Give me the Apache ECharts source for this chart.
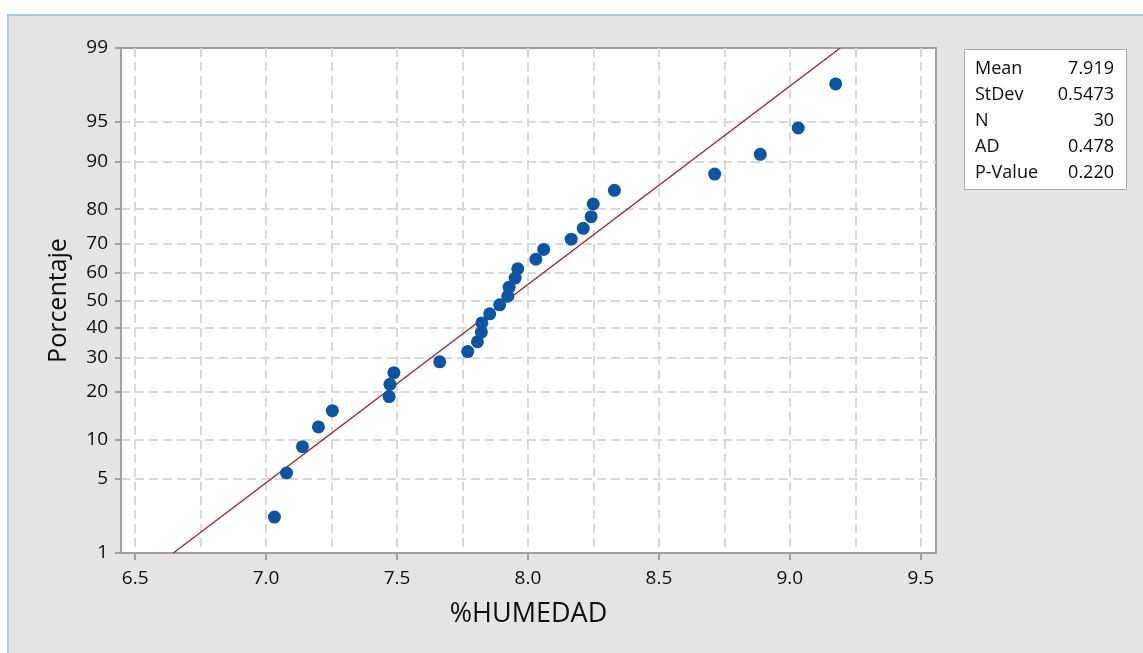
<!DOCTYPE html>
<html>
<head>
<meta charset="utf-8">
<script src="https://cdn.jsdelivr.net/npm/echarts@6/dist/echarts.min.js"></script>
<style>
html,body{margin:0;padding:0;background:#fff;}
#chart{width:1143px;height:653px;}
</style>
</head>
<body>
<div id="chart"></div>
<script>
// ---- data ----
const humedad = [7.032,7.078,7.139,7.200,7.253,7.470,7.473,7.488,7.663,7.770,7.807,7.822,7.824,7.854,7.892,7.923,7.928,7.951,7.961,8.030,8.060,8.165,8.211,8.241,8.249,8.330,8.713,8.887,9.032,9.175];
const percentaje = [2.3,5.6,8.9,12.2,15.5,18.8,22.0,25.3,28.6,31.9,35.2,38.5,41.8,45.1,48.4,51.6,54.9,58.2,61.5,64.8,68.1,71.4,74.7,78.0,81.3,84.5,87.8,91.1,94.4,97.7];
const yTickPercents = [1,5,10,20,30,40,50,60,70,80,90,95,99];
const xTickLabels = [6.5,7.0,7.5,8.0,8.5,9.0,9.5];
const xGridValues = [6.5,6.75,7.0,7.25,7.5,7.75,8.0,8.25,8.5,8.75,9.0,9.25,9.5];
const statNames = ['Mean','StDev','N','AD','P-Value'];
const statValues = ['7.919','0.5473','30','0.478','0.220'];
const fitMean = 7.919;
const fitStDev = 0.5473;
const fitRange = [1, 99];

// normal quantile (Acklam)
function probit(p){
  const a=[-3.969683028665376e+01,2.209460984245205e+02,-2.759285104469687e+02,1.383577518672690e+02,-3.066479806614716e+01,2.506628277459239e+00];
  const b=[-5.447609879822406e+01,1.615858368580409e+02,-1.556989798598866e+02,6.680131188771972e+01,-1.328068155288572e+01];
  const c=[-7.784894002430293e-03,-3.223964580411365e-01,-2.400758277161838e+00,-2.549732539343734e+00,4.374664141464968e+00,2.938163982698783e+00];
  const d=[7.784695709041462e-03,3.224671290700398e-01,2.445134137142996e+00,3.754408661907416e+00];
  const pl=0.02425, ph=1-pl;
  let q,r;
  if(p<pl){q=Math.sqrt(-2*Math.log(p));return (((((c[0]*q+c[1])*q+c[2])*q+c[3])*q+c[4])*q+c[5])/((((d[0]*q+d[1])*q+d[2])*q+d[3])*q+1);}
  if(p<=ph){q=p-0.5;r=q*q;return (((((a[0]*r+a[1])*r+a[2])*r+a[3])*r+a[4])*r+a[5])*q/(((((b[0]*r+b[1])*r+b[2])*r+b[3])*r+b[4])*r+1);}
  q=Math.sqrt(-2*Math.log(1-p));return -(((((c[0]*q+c[1])*q+c[2])*q+c[3])*q+c[4])*q+c[5])/((((d[0]*q+d[1])*q+d[2])*q+d[3])*q+1);
}
const z = pct => probit(pct/100);
const yTickZ = yTickPercents.map(z);
const yGridZ = yTickZ.slice(1, -1);
function labelForZ(v){
  let best=0, bd=Infinity;
  yTickZ.forEach((t,i)=>{const dd=Math.abs(t-v); if(dd<bd){bd=dd;best=i;}});
  return String(yTickPercents[best]);
}

const points = humedad.map((x,i)=>[x, z(percentaje[i])]);
const fitLine = fitRange.map(p => [fitMean + z(p)*fitStDev, z(p)]);

const FONT = '"Open Sans", "Noto Sans", sans-serif';
const TXT = '#0d0d0d';
const chart = echarts.init(document.getElementById('chart'), null, {renderer:'canvas'});

const statGraphics = [];
statGraphics.push({type:'rect', shape:{x:964.5,y:49.5,width:162,height:140}, style:{fill:'#fff', stroke:'#a8a8a8', lineWidth:1}, z:10});
statNames.forEach((n,i)=>{
  const yy = 69 + i*26;
  statGraphics.push({type:'text', x:975, y:yy, style:{text:n, font:'500 18px '+FONT, fill:TXT, textVerticalAlign:'middle', textAlign:'left'}, z:11});
  statGraphics.push({type:'text', x:1114, y:yy, style:{text:statValues[i], font:'500 18px '+FONT, fill:TXT, textVerticalAlign:'middle', textAlign:'right'}, z:11});
});

const option = {
  backgroundColor:'#e4e4e4',
  animation:false,
  grid:{left:121, right:207, top:48, bottom:100, show:true, backgroundColor:'#fff', borderColor:'#a0a0a0', borderWidth:2},
  xAxis:[{
    type:'value', min:6.446, max:9.558, position:'bottom',
    axisLine:{show:true, onZero:false, lineStyle:{color:'#a0a0a0', width:2}},
    axisTick:{show:true, length:7, lineStyle:{color:'#a0a0a0', width:2}, customValues:xTickLabels},
    axisLabel:{customValues:xTickLabels, margin:16, fontSize:19, fontWeight:500, fontFamily:FONT, color:TXT, formatter:v=>v.toFixed(1)},
    splitLine:{show:false},
    name:'%HUMEDAD', nameLocation:'middle', nameGap:48,
    nameTextStyle:{fontSize:27, fontWeight:500, fontFamily:FONT, color:TXT}
  },{
    type:'value', min:6.446, max:9.558, position:'bottom',
    axisLine:{show:false}, axisLabel:{show:false},
    axisTick:{show:false, customValues:xGridValues},
    splitLine:{show:true, lineStyle:{color:'#d9d9d9', width:2, type:[9,5]}}
  }],
  yAxis:[{
    type:'value', min:z(yTickPercents[0]), max:z(yTickPercents[yTickPercents.length-1]),
    axisLine:{show:true, onZero:false, lineStyle:{color:'#a0a0a0', width:2}},
    axisTick:{show:true, length:6, lineStyle:{color:'#a0a0a0', width:2}, customValues:yTickZ},
    axisLabel:{customValues:yTickZ, margin:13, fontSize:19, fontWeight:500, fontFamily:FONT, color:TXT, formatter:labelForZ},
    splitLine:{show:false},
    name:'Porcentaje', nameLocation:'middle', nameGap:50,
    nameTextStyle:{fontSize:25, fontWeight:500, fontFamily:FONT, color:TXT}
  },{
    type:'value', min:z(yTickPercents[0]), max:z(yTickPercents[yTickPercents.length-1]),
    axisLine:{show:false}, axisLabel:{show:false},
    axisTick:{show:false, customValues:yGridZ},
    splitLine:{show:true, lineStyle:{color:'#d9d9d9', width:2, type:[9,5]}}
  }],
  series:[{
    type:'line', data:fitLine, showSymbol:false, symbol:'none',
    lineStyle:{color:'#a3272b', width:1.5}, z:3, silent:true
  },{
    type:'scatter', data:points, symbol:'circle', symbolSize:13,
    itemStyle:{color:'#0b55a3', opacity:1}, z:4
  }],
  graphic:[
    {type:'rect', shape:{x:0,y:0,width:1143,height:14}, style:{fill:'#fff'}, z:100},
    {type:'rect', shape:{x:0,y:0,width:7,height:653}, style:{fill:'#fff'}, z:100},
    {type:'rect', shape:{x:7,y:14,width:1136,height:2}, style:{fill:'#a9c8e9'}, z:100},
    {type:'rect', shape:{x:7,y:14,width:2,height:639}, style:{fill:'#a9c8e9'}, z:100}
  ].concat(statGraphics)
};
chart.setOption(option);
</script>
</body>
</html>
